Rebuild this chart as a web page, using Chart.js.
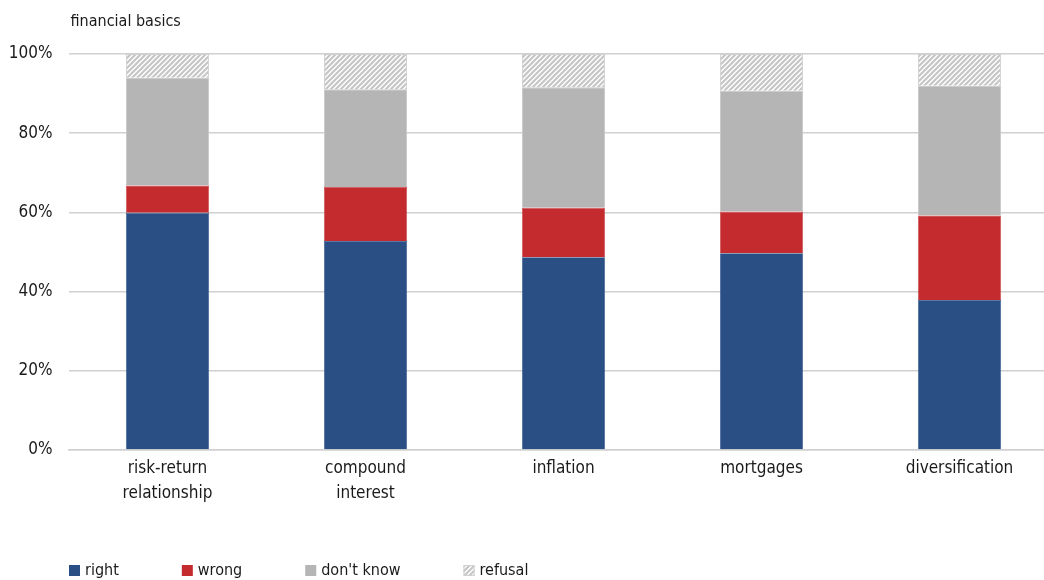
<!DOCTYPE html>
<html>
<head>
<meta charset="utf-8">
<script src="https://cdn.jsdelivr.net/npm/chart.js@4/dist/chart.umd.min.js"></script>
<style>
  html, body { margin: 0; padding: 0; background: #fff; overflow: hidden; }
  #wrap { position: relative; width: 1060px; height: 580px; }
</style>
</head>
<body>
<div id="wrap"><canvas id="c"></canvas></div>
<script>
const chartTitle = 'financial basics';
const categories = [['risk-return', 'relationship'], ['compound', 'interest'], 'inflation', 'mortgages', 'diversification'];
const seriesNames = ['right', 'wrong', "don't know", 'refusal'];
const rightVals = [59.9, 52.8, 48.7, 49.7, 37.9];
const wrongVals = [6.9, 13.6, 12.5, 10.5, 21.3];
const dontKnowVals = [27.2, 24.7, 30.4, 30.5, 32.8];
const refusalVals = [6.0, 8.9, 8.4, 9.3, 8.0];
const yTicks = [0, 20, 40, 60, 80, 100];

const FONT = "'DejaVu Sans Condensed', 'Liberation Sans', sans-serif";
const TEXT = '#1a1a1a';

function hatch() {
  const s = 5;
  const c = document.createElement('canvas');
  c.width = s; c.height = s;
  const x = c.getContext('2d');
  x.fillStyle = '#ffffff';
  x.fillRect(0, 0, s, s);
  x.strokeStyle = '#c6c6c6';
  x.lineWidth = 2.2;
  x.beginPath();
  x.moveTo(-1, s + 1); x.lineTo(s + 1, -1);
  x.moveTo(-1, 1); x.lineTo(1, -1);
  x.moveTo(s - 1, s + 1); x.lineTo(s + 1, s - 1);
  x.stroke();
  return x.createPattern(c, 'repeat');
}
const hatchPattern = hatch();

const titlePlugin = {
  id: 'leftTitle',
  afterDraw(chart) {
    const ctx = chart.ctx;
    ctx.save();
    ctx.font = '16px ' + FONT;
    ctx.fillStyle = TEXT;
    ctx.textBaseline = 'middle';
    ctx.textAlign = 'left';
    ctx.fillText(chartTitle, chart.chartArea.left + 2, 22);
    ctx.restore();
  }
};

const legendPlugin = {
  id: 'bottomLegend',
  afterDraw(chart) {
    const ctx = chart.ctx;
    ctx.save();
    ctx.font = '16px ' + FONT;
    ctx.textBaseline = 'middle';
    ctx.textAlign = 'left';
    let x = 69;
    const y = 571;
    chart.data.datasets.forEach(ds => {
      ctx.fillStyle = ds.backgroundColor;
      ctx.fillRect(x, y - 6, 11, 11);
      if (ds.label === 'refusal') {
        ctx.strokeStyle = '#d0d0d0';
        ctx.lineWidth = 1;
        ctx.strokeRect(x + 0.5, y - 5.5, 10, 10);
      }
      ctx.fillStyle = TEXT;
      ctx.fillText(ds.label, x + 16, y);
      x += 16 + ctx.measureText(ds.label).width + 63;
    });
    ctx.restore();
  }
};

const datasets = [
  { label: seriesNames[0], data: rightVals, backgroundColor: '#2a4f85', borderColor: '#3b5d90', borderWidth: 0.8 },
  { label: seriesNames[1], data: wrongVals, backgroundColor: '#c32b2f', borderColor: '#cc4a4d', borderWidth: 0.8 },
  { label: seriesNames[2], data: dontKnowVals, backgroundColor: '#b5b5b5', borderColor: '#c8c8c8', borderWidth: 1 },
  { label: seriesNames[3], data: refusalVals, backgroundColor: hatchPattern, borderColor: '#d0d0d0', borderWidth: 1 }
];

new Chart(document.getElementById('c'), {
  type: 'bar',
  data: { labels: categories, datasets: datasets },
  plugins: [titlePlugin, legendPlugin],
  options: {
    responsive: true,
    maintainAspectRatio: false,
    animation: false,
    layout: { padding: { top: 54, left: 0, right: 1.5, bottom: 0 } },
    datasets: { bar: { categoryPercentage: 1, barPercentage: 0.42 } },
    plugins: {
      legend: { display: false },
      title: { display: false },
      tooltip: { enabled: false }
    },
    scales: {
      x: {
        stacked: true,
        grid: { display: false, drawTicks: false },
        border: { display: true, color: '#d0d0d0', width: 1.5 },
        ticks: {
          color: TEXT,
          font: { family: FONT, size: 17, lineHeight: 1.42 },
          padding: 7,
          maxRotation: 0,
          autoSkip: false
        },
        afterFit(axis) { axis.height = 130; }
      },
      y: {
        stacked: true,
        min: 0,
        max: 100,
        afterBuildTicks(axis) { axis.ticks = yTicks.map(v => ({ value: v })); },
        grid: { color: '#d0d0d0', lineWidth: 1.5, drawTicks: false },
        border: { display: false },
        ticks: {
          color: TEXT,
          font: { family: FONT, size: 17 },
          padding: 16,
          callback: v => v + '%'
        },
        afterFit(axis) { axis.width = 68.5; }
      }
    }
  }
});
</script>
</body>
</html>
